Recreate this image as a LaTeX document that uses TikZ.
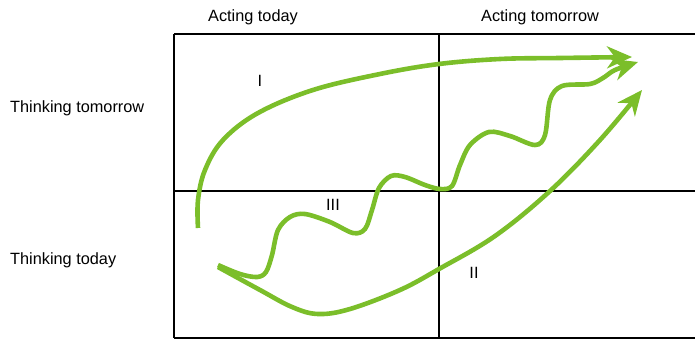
\documentclass[tikz,border=0pt]{standalone}
\usepackage{fontspec}
\setmainfont{Liberation Sans}
\usetikzlibrary{arrows.meta}
\definecolor{leaf}{HTML}{7BBE2A}
\tikzset{
  grid/.style={line width=2.5pt, black},
  trend/.style={leaf, line width=4.6pt, line cap=butt,
    -{Stealth[length=25pt, width=22pt, inset=8pt]}},
  lab/.style={font=\fontsize{16.3}{19}\selectfont, inner sep=0pt},
}
\begin{document}
\begin{tikzpicture}[x=1pt,y=-1pt]
\useasboundingbox (0,0) rectangle (695,339);
% grid
\coordinate (tl) at (174,34);
\coordinate (tm) at (439,34);
\coordinate (tr) at (695,34);
\coordinate (ml) at (174,191);
\coordinate (mr) at (695,191);
\coordinate (bl) at (174,338);
\coordinate (bm) at (439,338);
\coordinate (br) at (695,338);
\draw[grid] (tl) -- (tr);
\draw[grid] (ml) -- (mr);
\draw[grid] (bl) -- (br);
\draw[grid] (tl) -- (bl);
\draw[grid] (tm) -- (bm);
% labels
\node[lab] (at) at (253,17) {Acting today};
\node[lab] (atm) at (540,17) {Acting tomorrow};
\node[lab, anchor=west] (tt) at (10,108) {Thinking tomorrow};
\node[lab, anchor=west] (td) at (10,260) {Thinking today};
\node[lab] (q1) at (260,81) {I};
\node[lab] (q2) at (474,273) {II};
\node[lab] (q3) at (333,205) {III};
% curve I
\draw[trend] plot[smooth, tension=0.6] coordinates {
  (198,228) (198,200) (205,170) (223,140) (258,113) (313,90) (380,74)
  (439,64) (500,59) (560,58) (632,57)};
% curve II
\draw[trend] plot[smooth, tension=0.6] coordinates {
  (218,267) (260,290) (292,307) (318,314) (350,309) (400,290) (439,269)
  (495,236) (550,191) (600,140) (642,90)};
% curve III
\draw[trend] plot[smooth, tension=0.55] coordinates {
  (218,265) (240,274) (257,277) (266,272) (272,255) (278,230) (290,217)
  (305,214) (330,222) (353,233) (365,229) (372,210) (379,188) (391,176)
  (405,177) (425,185) (440,189) (452,186) (460,165) (470,145) (489,132)
  (510,136) (535,145) (545,135) (550,100) (562,86) (590,84) (603,78)
  (615,70) (638,62)};
\end{tikzpicture}
\end{document}
